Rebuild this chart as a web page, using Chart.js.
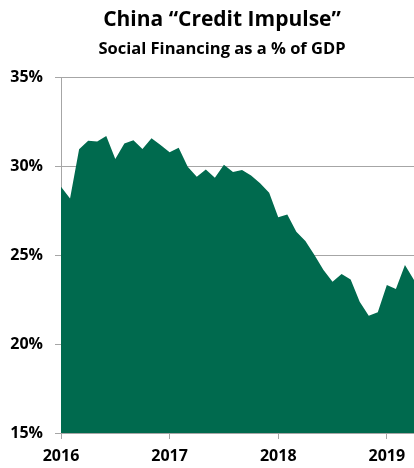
<!DOCTYPE html>
<html>
<head>
<meta charset="utf-8">
<script src="https://cdn.jsdelivr.net/npm/chart.js@4/dist/chart.umd.min.js"></script>
<style>
  html, body { margin: 0; padding: 0; background: #fff; }
  #wrap { width: 414px; height: 468px; }
</style>
</head>
<body>
<div id="wrap"><canvas id="impulseChart" width="414" height="468"></canvas></div>
<script>
// Social financing as a % of GDP, monthly from Jan 2016
const creditImpulse = [
    28.84, 28.18, 30.94, 31.42, 31.37, 31.69, 30.39, 31.26, 31.44, 30.96, 31.56, 31.18,
    30.77, 31.03, 29.96, 29.40, 29.81, 29.34, 30.07, 29.66, 29.78, 29.46, 29.03, 28.50,
    27.12, 27.27, 26.31, 25.79, 25.00, 24.16, 23.50, 23.93, 23.63, 22.38, 21.59, 21.78,
    23.31, 23.09, 24.44, 23.60
];
const yearLabels = ["2016", "2017", "2018", "2019"];
const yearStartMonths = [0, 12, 24, 36];
const yTicks = [15, 20, 25, 30, 35];

const titleText = "China \u201CCredit Impulse\u201D";
const subtitleText = "Social Financing as a % of GDP";

const FONT = "'Open Sans', sans-serif";
const GREEN = "#006A4E";
const GRID = "#a6a6a6";

// draw the two heading lines ourselves so they sit where the original has them
const headingPlugin = {
    id: "heading",
    afterDraw(chart) {
        const ctx = chart.ctx;
        ctx.save();
        ctx.fillStyle = "#000";
        ctx.textAlign = "center";
        ctx.textBaseline = "alphabetic";
        ctx.font = "bold 21px " + FONT;
        ctx.fillText(titleText, 222, 26);
        ctx.font = "bold 16.5px " + FONT;
        ctx.fillText(subtitleText, 222, 54);
        ctx.restore();
    }
};

new Chart(document.getElementById("impulseChart"), {
    type: "line",
    data: {
        datasets: [{
            data: creditImpulse.map((v, i) => ({ x: i, y: v })),
            backgroundColor: GREEN,
            borderColor: GREEN,
            borderWidth: 0,
            pointRadius: 0,
            fill: "start",
            tension: 0
        }]
    },
    options: {
        responsive: false,
        animation: false,
        layout: { padding: { top: 77, right: 0, left: 0, bottom: 0 } },
        plugins: {
            legend: { display: false },
            tooltip: { enabled: false }
        },
        scales: {
            x: {
                type: "linear",
                min: 0,
                max: creditImpulse.length - 1,
                afterBuildTicks(scale) {
                    scale.ticks = yearStartMonths.map(v => ({ value: v }));
                },
                afterFit(scale) { scale.height = 35; },
                grid: { drawOnChartArea: false, drawTicks: true, tickLength: 6, color: GRID },
                border: { color: GRID, width: 1 },
                ticks: {
                    padding: 8,
                    color: "#000",
                    font: { family: FONT, size: 16, weight: "bold" },
                    maxRotation: 0,
                    callback: (v) => yearLabels[yearStartMonths.indexOf(v)]
                }
            },
            y: {
                min: 15,
                max: 35,
                afterBuildTicks(scale) {
                    scale.ticks = yTicks.map(v => ({ value: v }));
                },
                afterFit(scale) { scale.width = 61; },
                grid: { color: GRID, tickLength: 6, lineWidth: 1 },
                border: { color: GRID, width: 1 },
                ticks: {
                    padding: 12,
                    color: "#000",
                    font: { family: FONT, size: 16, weight: "bold" },
                    callback: (v) => v + "%"
                }
            }
        }
    },
    plugins: [headingPlugin]
});
</script>
</body>
</html>
